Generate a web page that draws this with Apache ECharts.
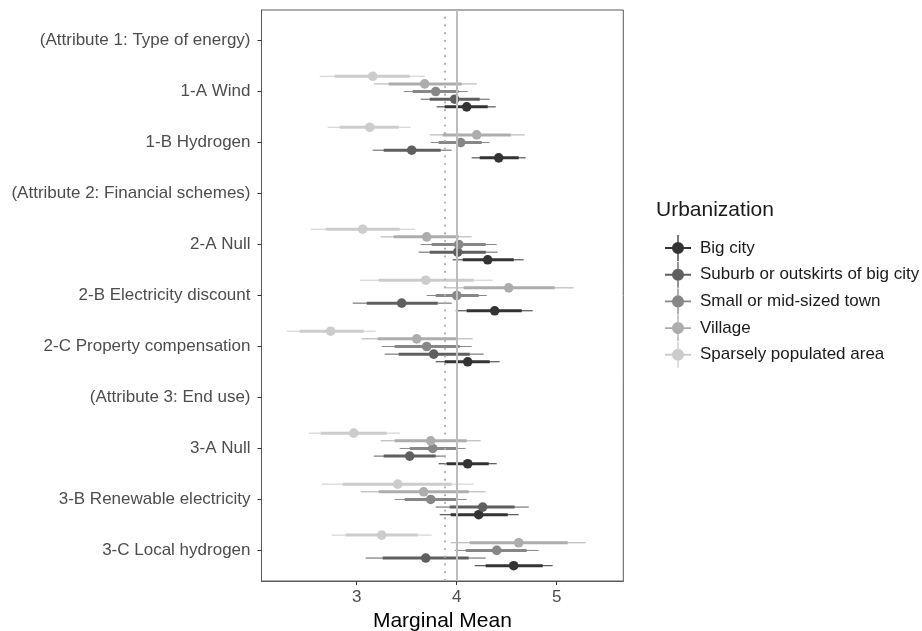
<!DOCTYPE html>
<html>
<head>
<meta charset="utf-8">
<script src="https://cdn.jsdelivr.net/npm/echarts@6/dist/echarts.min.js"></script>
<style>
html,body{margin:0;padding:0;background:#fff;}
#chart{width:922px;height:631px;}
</style>
</head>
<body>
<div id="chart"></div>
<script>
// Row labels (top to bottom)
const categories = [
  "(Attribute 1: Type of energy)",
  "1-A Wind",
  "1-B Hydrogen",
  "(Attribute 2: Financial schemes)",
  "2-A Null",
  "2-B Electricity discount",
  "2-C Property compensation",
  "(Attribute 3: End use)",
  "3-A Null",
  "3-B Renewable electricity",
  "3-C Local hydrogen"
];
const seriesNames = ["Big city", "Suburb or outskirts of big city", "Small or mid-sized town", "Village", "Sparsely populated area"];
const xTicks = [3, 4, 5];
const refLines = [4, 3.88];

// each row: [estimate, inner lo, inner hi, outer lo, outer hi]; null = header row
const bigCity = [
  null,
  [4.10, 3.88, 4.31, 3.80, 4.39],
  [4.42, 4.23, 4.62, 4.15, 4.69],
  null,
  [4.31, 4.06, 4.57, 3.96, 4.67],
  [4.38, 4.10, 4.65, 3.99, 4.76],
  [4.11, 3.88, 4.33, 3.79, 4.43],
  null,
  [4.11, 3.90, 4.32, 3.82, 4.40],
  [4.22, 3.94, 4.51, 3.83, 4.62],
  [4.57, 4.29, 4.86, 4.18, 4.96]
];
const suburb = [
  null,
  [3.98, 3.73, 4.23, 3.64, 4.33],
  [3.55, 3.27, 3.84, 3.16, 3.95],
  null,
  [4.01, 3.73, 4.29, 3.62, 4.41],
  [3.45, 3.10, 3.81, 2.96, 3.95],
  [3.77, 3.42, 4.13, 3.28, 4.27],
  null,
  [3.53, 3.27, 3.79, 3.17, 3.89],
  [4.26, 3.93, 4.58, 3.79, 4.72],
  [3.69, 3.26, 4.12, 3.09, 4.29]
];
const smallTown = [
  null,
  [3.79, 3.56, 4.02, 3.47, 4.11],
  [4.04, 3.82, 4.25, 3.74, 4.33],
  null,
  [4.02, 3.75, 4.29, 3.64, 4.40],
  [4.00, 3.79, 4.22, 3.70, 4.30],
  [3.70, 3.38, 4.03, 3.25, 4.15],
  null,
  [3.76, 3.53, 4.00, 3.43, 4.09],
  [3.74, 3.48, 4.00, 3.38, 4.10],
  [4.40, 4.09, 4.70, 3.98, 4.82]
];
const village = [
  null,
  [3.68, 3.32, 4.05, 3.17, 4.20],
  [4.20, 3.86, 4.54, 3.73, 4.68],
  null,
  [3.70, 3.37, 4.02, 3.24, 4.15],
  [4.52, 4.07, 4.98, 3.88, 5.17],
  [3.60, 3.21, 4.00, 3.05, 4.16],
  null,
  [3.74, 3.38, 4.10, 3.24, 4.24],
  [3.67, 3.22, 4.12, 3.04, 4.29],
  [4.62, 4.13, 5.11, 3.94, 5.29]
];
const sparse = [
  null,
  [3.16, 2.78, 3.53, 2.63, 3.68],
  [3.13, 2.83, 3.42, 2.71, 3.54],
  null,
  [3.06, 2.69, 3.43, 2.54, 3.58],
  [3.69, 3.22, 4.17, 3.03, 4.36],
  [2.74, 2.43, 3.07, 2.30, 3.19],
  null,
  [2.97, 2.64, 3.30, 2.52, 3.43],
  [3.41, 2.86, 3.95, 2.65, 4.17],
  [3.25, 2.89, 3.61, 2.75, 3.75]
];

const seriesData = [bigCity, suburb, smallTown, village, sparse];
const colors = ["#333333", "#5f5f5f", "#878787", "#adadad", "#cccccc"];
const offsets = [0.3, 0.15, 0, -0.15, -0.3];

const FONT = "'Liberation Sans', Arial, Helvetica, sans-serif";
const iconPath = "path://M0,13 h28 v2 h-28 z M13.3,0 h1.4 v28 h-1.4 z M7.5,14 a6.5,6.5 0 1,1 13,0 a6.5,6.5 0 1,1 -13,0 z";

function renderItem(params, api) {
  const y = api.value(0);
  const est = api.coord([api.value(1), y]);
  const iLo = api.coord([api.value(2), y]);
  const iHi = api.coord([api.value(3), y]);
  const oLo = api.coord([api.value(4), y]);
  const oHi = api.coord([api.value(5), y]);
  const c = api.visual('color');
  return {
    type: 'group',
    children: [
      {type: 'line', shape: {x1: oLo[0], y1: oLo[1], x2: oHi[0], y2: oHi[1]}, style: {stroke: c, lineWidth: 1}},
      {type: 'line', shape: {x1: iLo[0], y1: iLo[1], x2: iHi[0], y2: iHi[1]}, style: {stroke: c, lineWidth: 3}},
      {type: 'circle', shape: {cx: est[0], cy: est[1], r: 4.8}, style: {fill: c}}
    ]
  };
}

const series = [{
  type: 'line',
  data: [],
  silent: true,
  z: 1,
  markLine: {
    silent: true,
    symbol: ['none', 'none'],
    label: {show: false},
    animation: false,
    data: [
      {xAxis: refLines[0], lineStyle: {color: '#bdbdbd', width: 2, type: 'solid'}},
      {xAxis: refLines[1], lineStyle: {color: '#b0b0b0', width: 2.2, type: [0.1, 7.6], cap: 'round'}}
    ]
  }
}];
seriesData.forEach((rows, si) => {
  const data = [];
  rows.forEach((r, i) => {
    if (r) data.push([i + offsets[si]].concat(r));
  });
  series.push({
    name: seriesNames[si],
    type: 'custom',
    renderItem: renderItem,
    itemStyle: {color: colors[si]},
    encode: {x: [1, 2, 3, 4, 5], y: 0},
    data: data,
    z: 2
  });
});

const chart = echarts.init(document.getElementById('chart'), null, {renderer: 'canvas'});
chart.setOption({
  animation: false,
  backgroundColor: '#ffffff',
  textStyle: {fontFamily: FONT},
  title: {
    text: 'Urbanization',
    left: 656,
    top: 200,
    padding: 0,
    textStyle: {fontFamily: FONT, fontSize: 21, fontWeight: 'normal', color: '#1a1a1a'}
  },
  legend: {
    orient: 'vertical',
    left: 660,
    top: 230,
    itemWidth: 26,
    itemHeight: 26,
    itemGap: 0.7,
    icon: iconPath,
    selectedMode: false,
    data: seriesNames,
    textStyle: {fontFamily: FONT, fontSize: 17, color: '#1a1a1a', padding: [0, 0, 0, 4]}
  },
  grid: {
    left: 261.5,
    right: 298.7,
    top: 10,
    bottom: 50,
    show: true,
    borderColor: '#5a5a5a',
    borderWidth: 1,
    backgroundColor: '#ffffff',
    containLabel: false,
    outerBoundsMode: 'none'
  },
  xAxis: {
    type: 'value',
    min: 2.048,
    max: 5.666,
    name: 'Marginal Mean',
    nameLocation: 'middle',
    nameGap: 30,
    nameTextStyle: {fontFamily: FONT, fontSize: 21, color: '#000000'},
    axisLine: {show: true, onZero: false, lineStyle: {color: '#5a5a5a', width: 1}},
    axisTick: {show: true, length: 4, customValues: xTicks, lineStyle: {color: '#333333', width: 1}},
    axisLabel: {customValues: xTicks, fontSize: 17, color: '#4d4d4d', margin: 8, fontFamily: FONT},
    splitLine: {show: false}
  },
  yAxis: {
    type: 'value',
    inverse: true,
    min: -0.6,
    max: 10.6,
    axisLine: {show: true, onZero: false, lineStyle: {color: '#5a5a5a', width: 1}},
    axisTick: {show: true, length: 4, customValues: categories.map((c, i) => i), lineStyle: {color: '#333333', width: 1}},
    axisLabel: {
      customValues: categories.map((c, i) => i),
      formatter: v => categories[Math.round(v)],
      fontSize: 17,
      color: '#4d4d4d',
      margin: 11,
      fontFamily: FONT
    },
    splitLine: {show: false}
  },
  series: series
});
</script>
</body>
</html>
